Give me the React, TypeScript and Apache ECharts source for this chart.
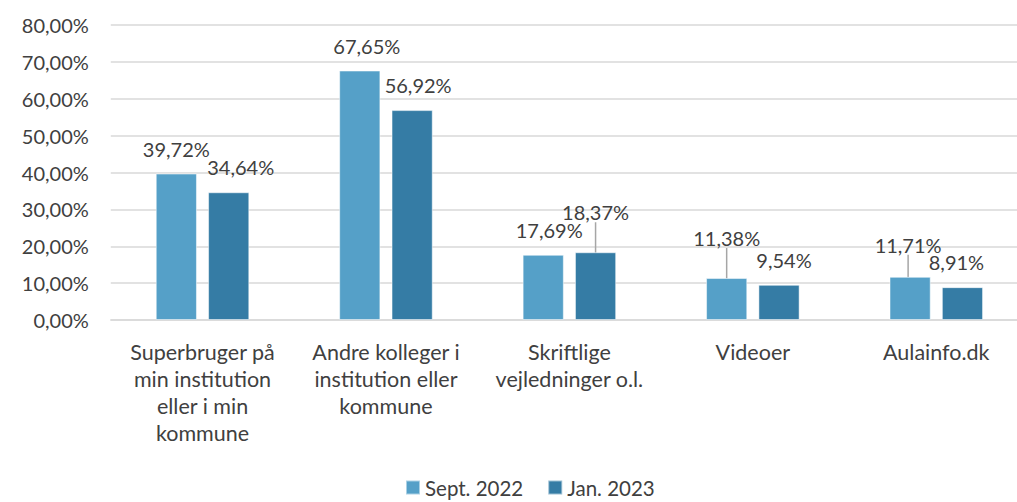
import React, { useEffect, useRef } from "react";
import * as echarts from "echarts";

const categories = [
  "Superbruger på\nmin institution\neller i min\nkommune",
  "Andre kolleger i\ninstitution eller\nkommune",
  "Skriftlige\nvejledninger o.l.",
  "Videoer",
  "Aulainfo.dk",
];
const sept2022 = [39.72, 67.65, 17.69, 11.38, 11.71];
const jan2023 = [34.64, 56.92, 18.37, 9.54, 8.91];
const seriesNames = ["Sept. 2022", "Jan. 2023"];
const yTicks = [0, 10, 20, 30, 40, 50, 60, 70, 80];

const FONT = "Lato";
const TEXT = "#404040";
const fmt = (v: number) => v.toFixed(2).replace(".", ",") + "%";

// label nudges (dx, dy) per series / category to mimic manually placed labels
const nudges: number[][][] = [
  [[0, 0], [7, 0], [6, 0], [0, -15], [-2, -7]],
  [[12, 0], [6, 0], [0, -15], [5, 0], [-6, 0]],
];
const leaders: boolean[][] = [
  [false, false, false, true, true],
  [false, false, true, false, false],
];

export default function App() {
  const ref = useRef<HTMLDivElement>(null);
  useEffect(() => {
    if (!ref.current) return;
    const chart = echarts.init(ref.current, undefined, { renderer: "svg" });
    const mkSeries = (name: string, data: number[], color: string, si: number) => ({
      name,
      type: "bar",
      data: data.map((v, i) => ({
        value: v,
        labelLine: { show: leaders[si][i] },
      })),
      barGap: "27%",
      barCategoryGap: "49%",
      itemStyle: { color, borderColor: "rgba(255,255,255,0.5)", borderWidth: 1 },
      label: {
        show: true,
        position: "top",
        distance: 15,
        formatter: (p: any) => fmt(p.value),
        fontFamily: FONT,
        fontSize: 20,
        color: TEXT,
      },
      labelLine: {
        show: false,
        lineStyle: { color: "#a6a6a6", width: 1.5 },
      },
      labelLayout: (p: any) => {
        const n = nudges[si][p.dataIndex];
        return { dx: n[0], dy: n[1] };
      },
    });
    chart.setOption({
      animation: false,
      grid: { left: 110.8, right: 0, top: 25, bottom: 182, containLabel: false },
      legend: {
        top: 477,
        left: 405,
        padding: 0,
        itemWidth: 14,
        itemHeight: 14,
        itemGap: 24,
        icon: "rect",
        textStyle: { fontFamily: FONT, fontSize: 20.5, color: TEXT },
        data: seriesNames,
      },
      xAxis: {
        type: "category",
        data: categories,
        axisLine: { lineStyle: { color: "#d9d9d9", width: 1.5 } },
        axisTick: { show: false },
        axisLabel: {
          interval: 0,
          margin: 18,
          fontFamily: FONT,
          fontSize: 21.5,
          lineHeight: 27,
          color: TEXT,
          align: "center",
          verticalAlign: "top",
        },
      },
      yAxis: {
        type: "value",
        min: yTicks[0],
        max: yTicks[yTicks.length - 1],
        interval: 10,
        axisLabel: {
          margin: 22,
          fontFamily: FONT,
          fontSize: 20,
          color: TEXT,
          formatter: (v: number) => fmt(v),
        },
        axisLine: { show: false },
        axisTick: { show: false },
        splitLine: { lineStyle: { color: "#d9d9d9", width: 1.5 } },
      },
      series: [
        mkSeries(seriesNames[0], sept2022, "#55a0c8", 0),
        mkSeries(seriesNames[1], jan2023, "#357ca5", 1),
      ],
    });
    return () => chart.dispose();
  }, []);
  return (
    <div
      style={{
        position: "fixed",
        left: 0,
        top: 0,
        width: 1017,
        height: 502,
        overflow: "hidden",
        background: "#fff",
      }}
    >
      <div ref={ref} style={{ width: 1028, height: 502 }} />
    </div>
  );
}
